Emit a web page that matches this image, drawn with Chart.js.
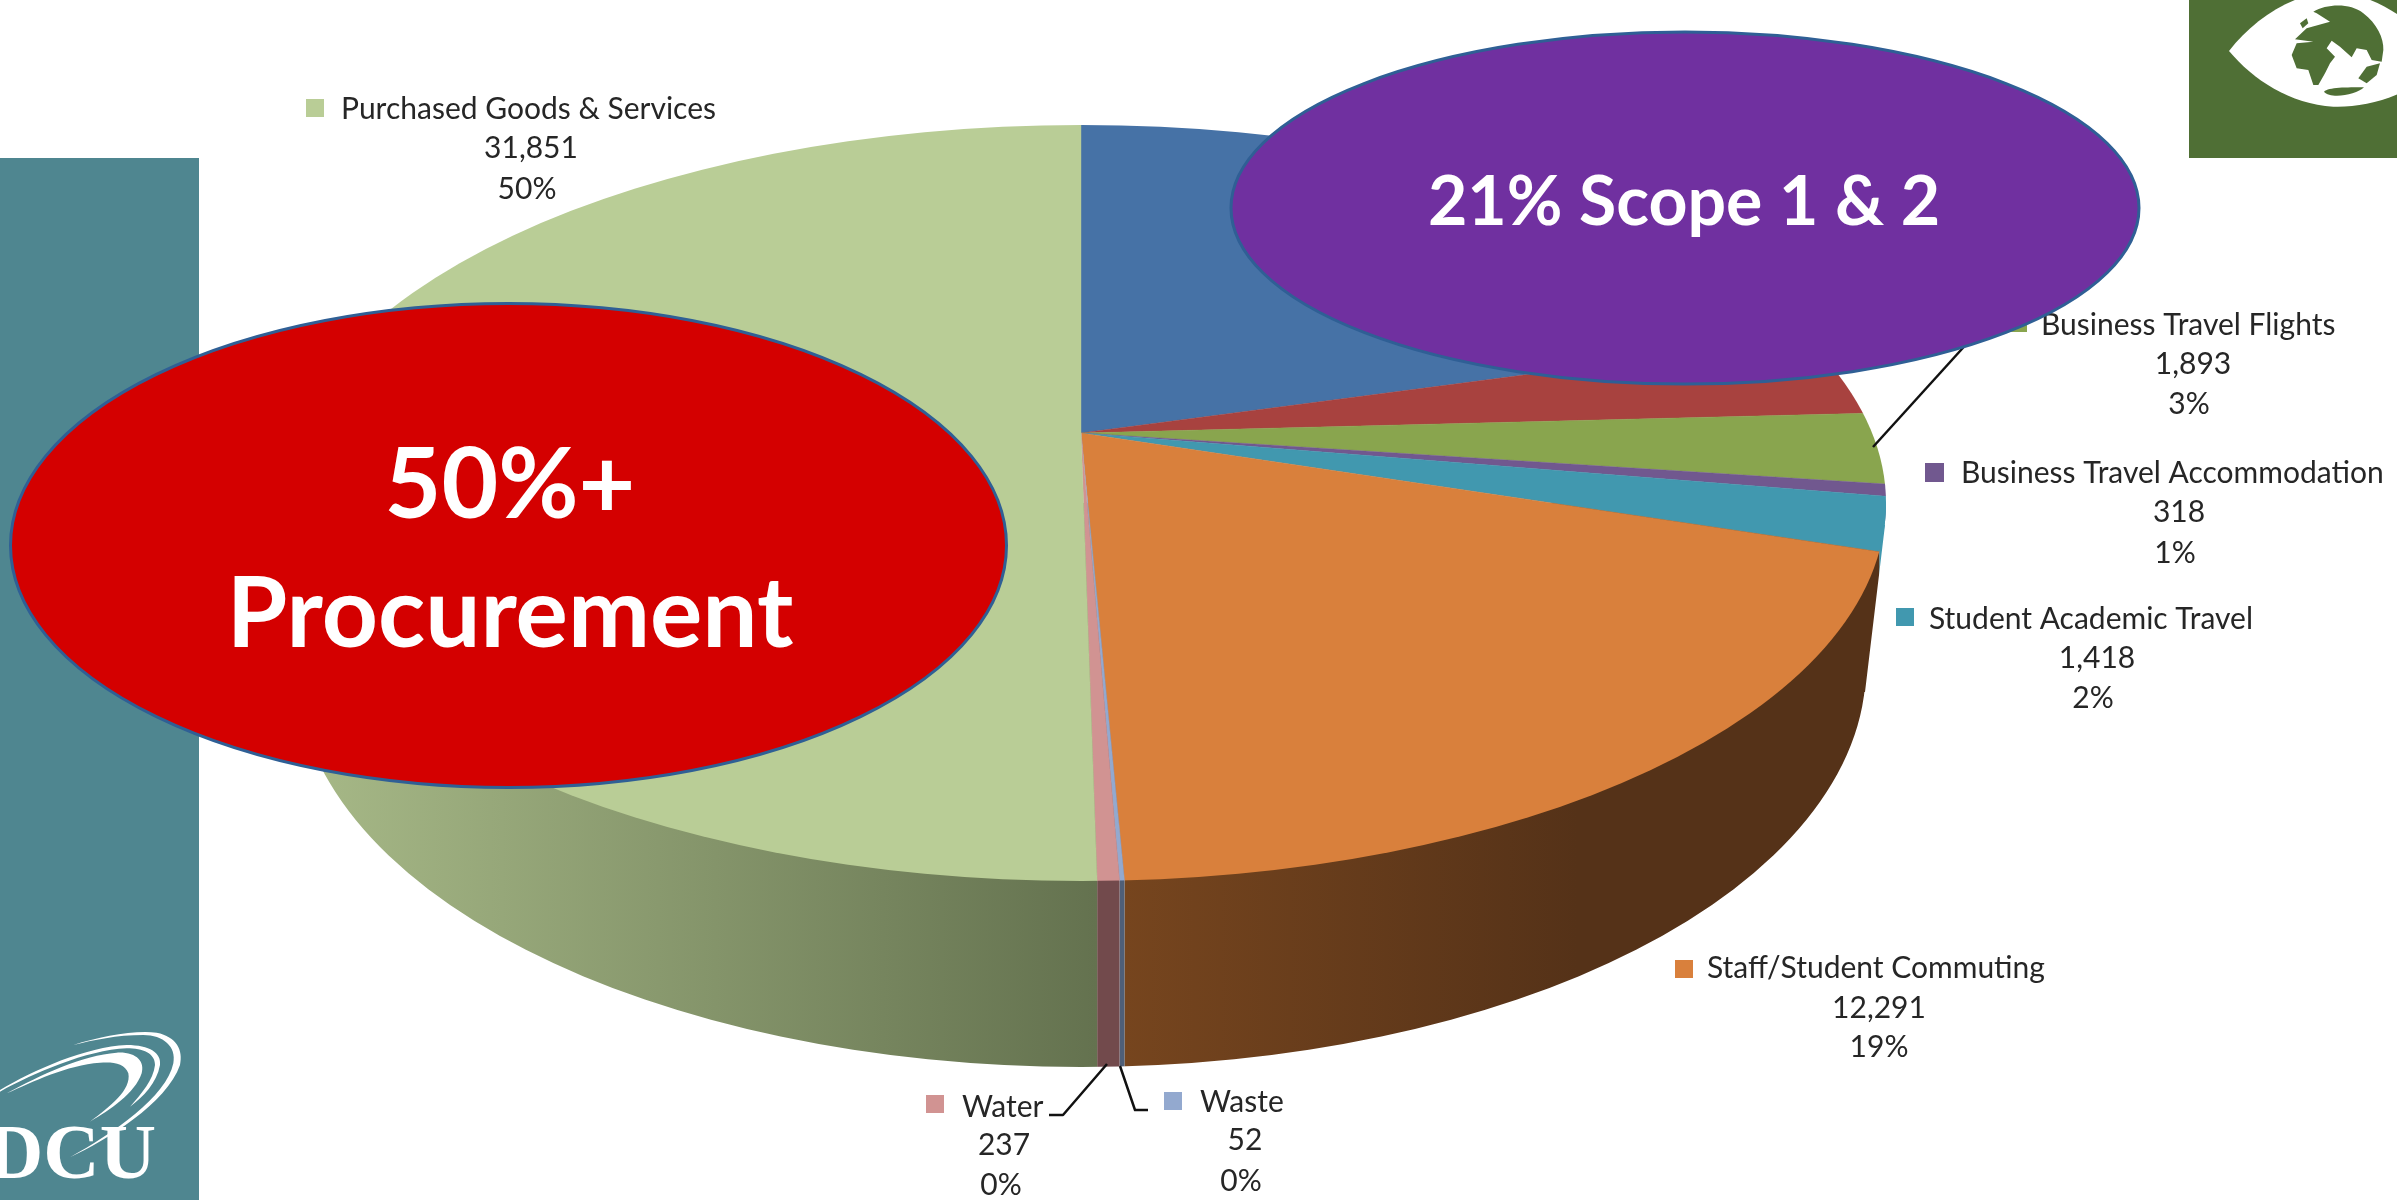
<!DOCTYPE html>
<html><head><meta charset="utf-8">
<style>html,body{margin:0;padding:0;background:#fff}canvas{display:block}</style>
<script src="https://cdn.jsdelivr.net/npm/chart.js@4"></script>
</head><body>
<canvas id="c" width="2397" height="1200"></canvas>
<script>
// ---- data ----
const categories = ['Scope 1 & 2','Other Scope 1 & 2','Business Travel Flights','Business Travel Accommodation','Student Academic Travel','Staff/Student Commuting','Waste','Water','Purchased Goods & Services'];
const values = [13100,2200,1893,318,1418,12291,52,237,31851];
const percentLabels = ['21%','3%','3%','1%','2%','19%','0%','0%','50%'];
const sliceColors = ['#4672a6','#a8423f','#89a54e','#71588f','#4198af','#d9803c','#93a9cf','#d19392','#b9cd96'];
const wallColors = [null,null,null,['#71588f','#71588f'],['#4198af','#4198af'],['#76451e','#553218'],['#4f5f78','#4f5f78'],['#724a4c','#724a4c'],['#a9bb89','#64724f']];
const callouts = [
  {lines:['50%+','Procurement'],fill:'#d40000'},
  {lines:['21% Scope 1 & 2'],fill:'#7030a0'}
];
// ---- layout of the drawing ----
const pieCentre = {x:1081,y:433};
const rimTop = {x:1081.5,y:503,rx:804.5,ry:378};
const rimBottom = {x:1081,y:667,rx:785,ry:400};
const squash = 0.47, reach = 1100;
const labelLayout = [null,null,
 {sw:[2009,314,18],x:2041,cv:2193,cp:2189,y:[335,374,414]},
 {sw:[1925,463,19],x:1961,cv:2179,cp:2175,y:[483,522,563]},
 {sw:[1896,608,18],x:1929,cv:2097,cp:2093,y:[629,668,708]},
 {sw:[1675,960,18],x:1707,cv:1879,cp:1879,y:[978,1018,1057]},
 {sw:[1164,1092,18],x:1200,cv:1245,cp:1241,y:[1112,1150,1191]},
 {sw:[926,1095,18],x:962,cv:1004,cp:1001,y:[1117,1155,1195]},
 {sw:[306,99,18],x:341,cv:531,cp:527,y:[119,158,199]}
];
const leaderLines = [
 [[1873,447],[1990,318]],
 [[1107,1064],[1063,1115],[1049,1115]],
 [[1120,1066],[1135,1110],[1148,1110]]
];
const calloutLayout = [
 {cx:508.5,cy:545.5,rx:498,ry:242,size:98,x:510,base:[518,647]},
 {cx:1685,cy:208,rx:454,ry:176,size:68,x:1684,base:[225]}
];
const labelFont = '30px Lato, Carlito, sans-serif';

function rimX(a){ // where a ray from the pie centre meets the upper rim
  const dx=Math.cos(a), dy=squash*Math.sin(a);
  const ox=(pieCentre.x-rimTop.x)/rimTop.rx, oy=(pieCentre.y-rimTop.y)/rimTop.ry;
  const ux=dx/rimTop.rx, uy=dy/rimTop.ry;
  const A=ux*ux+uy*uy,B=2*(ox*ux+oy*uy),C=ox*ox+oy*oy-1;
  const t=(-B+Math.sqrt(B*B-4*A*C))/(2*A);
  return pieCentre.x+t*dx;
}
function hullPath(ctx){
  ctx.beginPath();
  ctx.ellipse(rimTop.x,rimTop.y,rimTop.rx,rimTop.ry,0,0,Math.PI*2);
  ctx.closePath();
  ctx.ellipse(rimBottom.x,rimBottom.y,rimBottom.rx,rimBottom.ry,0,0,Math.PI*2);
  ctx.closePath();
  ctx.moveTo(277,525);ctx.lineTo(1885,525);ctx.lineTo(1865,692);ctx.lineTo(297,692);ctx.closePath();
}
const pie3d = {
  id:'pie3d',
  beforeDraw(chart){
    const ctx=chart.ctx;
    ctx.save();
    ctx.fillStyle='#4f8690';ctx.fillRect(0,158,199,1042);
    ctx.fillStyle='#4f6f35';ctx.fillRect(2189,0,208,158);
    ctx.restore();
  },
  beforeDatasetsDraw(chart){
    const ctx=chart.ctx, arcs=chart.getDatasetMeta(0).data;
    // side wall
    ctx.save();hullPath(ctx);ctx.clip();
    arcs.forEach((el,i)=>{
      const w=wallColors[i]; if(!w) return;
      const xb=rimX(el.startAngle), past=el.endAngle>Math.PI;
      const xa=past?rimTop.x-rimTop.rx:rimX(el.endAngle);
      const g=ctx.createLinearGradient(xa,0,xb,0);
      if(i===5){g.addColorStop(1,w[1]);g.addColorStop(.6,w[1]);g.addColorStop(0,w[0]);}
      else{g.addColorStop(0,w[0]);g.addColorStop(1,w[1]);}
      ctx.fillStyle=g;
      ctx.fillRect(xa-(past?40:0),rimTop.y,xb-xa+(past?40:0),rimBottom.y+rimBottom.ry-rimTop.y+5);
    });
    ctx.restore();
    // top face: the library's own arcs, tilted and clipped to the rim
    ctx.save();
    ctx.beginPath();ctx.ellipse(rimTop.x,rimTop.y,rimTop.rx,rimTop.ry,0,0,Math.PI*2);ctx.clip();
    const el0=arcs[0], s=reach/el0.outerRadius;
    ctx.translate(pieCentre.x,pieCentre.y);ctx.scale(s,s*squash);ctx.translate(-el0.x,-el0.y);
    arcs.forEach(el=>el.draw(ctx));
    ctx.restore();
    return false;
  },
  afterDraw(chart){
    const ctx=chart.ctx;
    ctx.save();
    // leader lines
    ctx.strokeStyle='#111';ctx.lineWidth=2.5;ctx.lineJoin='round';
    leaderLines.forEach(l=>{ctx.beginPath();l.forEach((p,i)=>i?ctx.lineTo(p[0],p[1]):ctx.moveTo(p[0],p[1]));ctx.stroke();});
    // data labels
    ctx.font=labelFont;ctx.fillStyle='#262626';ctx.textBaseline='alphabetic';
    labelLayout.forEach((l,i)=>{
      if(!l) return;
      ctx.fillStyle=sliceColors[i];ctx.fillRect(l.sw[0],l.sw[1],l.sw[2],l.sw[2]);
      ctx.fillStyle='#262626';
      ctx.textAlign='left';ctx.fillText(categories[i],l.x,l.y[0]);
      ctx.textAlign='center';ctx.fillText(values[i].toLocaleString('en-US'),l.cv,l.y[1]);
      ctx.fillText(percentLabels[i],l.cp,l.y[2]);
    });
    // DCU logo
    ctx.fillStyle='#fff';
    ctx.textAlign='left';ctx.font='bold 78px "Liberation Serif", serif';ctx.fillText('DCU',-13,1178);
    ctx.save();ctx.translate(0,950);ctx.scale(1/3,1/3);
    ['M220,285C300,260 400,240 470,248C530,260 550,300 540,345C500,460 320,570 210,622C340,550 500,440 520,340C530,290 490,255 430,255C350,255 280,270 220,285Z',
     'M0,420C100,360 260,290 380,285C450,285 485,310 480,345C470,400 430,440 390,470C425,430 460,390 465,345C465,310 430,295 380,295C260,300 100,370 0,425Z',
     'M20,430C120,375 250,315 350,308C410,305 435,335 425,370C405,430 330,480 270,515C330,470 395,420 385,370C375,340 340,335 300,338C200,345 100,395 20,430Z'
    ].forEach(d=>ctx.fill(new Path2D(d)));
    ctx.restore();
    // eye and globe logo
    ctx.save();ctx.translate(2150,0);ctx.scale(1/3,1/3);
    ctx.fillStyle='#fff';
    ctx.fill(new Path2D('M237,153C300,70 400,0 500,-20C590,-35 680,0 745,45L745,282C680,310 610,322 550,320C420,312 310,240 237,153Z'));
    ctx.fillStyle='#4f6f35';
    ['M490,35C530,12 600,8 640,40C680,70 702,115 700,150L695,185L665,180L650,150L620,145L605,172L570,140L545,122L530,145L555,170L540,190L525,220L505,255L490,255L475,210L440,205L425,165L440,130L490,125L435,118L470,85L540,65L500,40Z',
     'M625,235L650,200L690,190L680,225L650,250Z',
     'M522,275C535,262 590,262 642,262C620,285 540,298 522,275Z',
     'M450,70L470,55L475,70L458,85Z'
    ].forEach(d=>ctx.fill(new Path2D(d)));
    ctx.restore();
    // call-out ovals
    callouts.forEach((c,i)=>{
      const L=calloutLayout[i];
      ctx.beginPath();ctx.ellipse(L.cx,L.cy,L.rx,L.ry,0,0,Math.PI*2);
      ctx.fillStyle=c.fill;ctx.fill();
      ctx.strokeStyle='#2f5f95';ctx.lineWidth=3;ctx.stroke();
      ctx.fillStyle='#fff';ctx.textAlign='center';
      ctx.font='bold '+L.size+'px Lato, Carlito, sans-serif';
      c.lines.forEach((t,j)=>ctx.fillText(t,L.x,L.base[j]));
    });
    ctx.restore();
  }
};
new Chart(document.getElementById('c'),{
  type:'pie',
  data:{labels:categories,datasets:[{data:values,backgroundColor:sliceColors,borderColor:sliceColors,borderWidth:0.3,hoverOffset:0}]},
  options:{responsive:false,animation:false,rotation:0,
    plugins:{legend:{display:false},tooltip:{enabled:false},title:{display:false}}},
  plugins:[pie3d]
});
</script>
</body></html>
